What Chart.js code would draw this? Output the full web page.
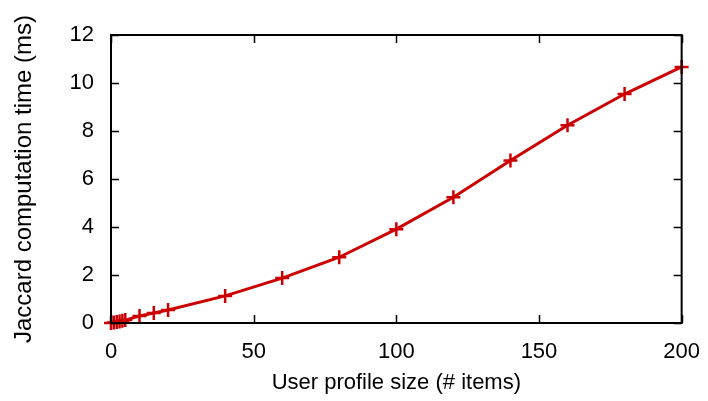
<!DOCTYPE html>
<html>
<head>
<meta charset="utf-8">
<script src="https://cdn.jsdelivr.net/npm/chart.js@4.4.1/dist/chart.umd.min.js"></script>
<style>
  html, body { margin: 0; padding: 0; background: #fff; }
  #wrap { width: 708px; height: 401px; }
</style>
</head>
<body>
<div id="wrap"><canvas id="chart-1" width="708" height="401"></canvas></div>
<script>
// profile size (# items) and Jaccard computation time (ms)
const profileSizes = [0, 1, 2, 3, 4, 5, 10, 15, 20, 40, 60, 80, 100, 120, 140, 160, 180, 200];
const jaccardTimes = [0.0, 0.02, 0.04, 0.06, 0.09, 0.12, 0.29, 0.42, 0.54, 1.13, 1.87, 2.74, 3.91, 5.24, 6.77, 8.24, 9.54, 10.67];
const xTicks = [0, 50, 100, 150, 200];
const yTicks = [0, 2, 4, 6, 8, 10, 12];

const FONT = 'Liberation Sans, Arial, sans-serif';
const red = 'rgb(204, 0, 0)';

// frame + inward ticks on all four sides, like gnuplot
const framePlugin = {
    id: 'frame',
    afterDraw(chart) {
        const ctx = chart.ctx;
        const a = chart.chartArea;
        const xs = chart.scales.x, ys = chart.scales.y;
        ctx.save();
        ctx.strokeStyle = '#000';
        ctx.lineWidth = 1.5;
        ctx.beginPath();
        xTicks.forEach(v => {
            const px = Math.round(xs.getPixelForValue(v)) + 0.5;
            ctx.moveTo(px, a.bottom); ctx.lineTo(px, a.bottom - 8);
            ctx.moveTo(px, a.top); ctx.lineTo(px, a.top + 8);
        });
        yTicks.forEach(v => {
            const py = Math.round(ys.getPixelForValue(v)) + 0.5;
            ctx.moveTo(a.left, py); ctx.lineTo(a.left + 8, py);
            ctx.moveTo(a.right, py); ctx.lineTo(a.right - 8, py);
        });
        ctx.stroke();
        ctx.lineWidth = 2;
        ctx.strokeRect(a.left, a.top, a.right - a.left, a.bottom - a.top);
        ctx.restore();
    }
};

const data = {
    datasets: [{
        label: 'Jaccard',
        data: profileSizes.map((s, i) => ({ x: s, y: jaccardTimes[i] })),
        borderColor: red,
        backgroundColor: red,
        borderWidth: 3,
        pointStyle: 'cross',
        pointRadius: 7,
        pointBorderWidth: 2.5,
        pointHoverRadius: 7,
        tension: 0,
        clip: false
    }]
};

const config = {
    type: 'line',
    data: data,
    options: {
        responsive: false,
        animation: false,
        layout: { padding: { left: 0, right: 20, top: 35, bottom: 0 } },
        plugins: {
            legend: { display: false },
            tooltip: { enabled: false }
        },
        scales: {
            x: {
                type: 'linear',
                min: 0,
                max: 200,
                afterBuildTicks: (s) => { s.ticks = xTicks.map(v => ({ value: v })); },
                afterFit: (s) => { s.height = 78; },
                grid: { display: false },
                border: { display: false },
                ticks: { color: '#000', font: { family: FONT, size: 22 }, padding: 8, maxRotation: 0 },
                title: {
                    display: true,
                    text: 'User profile size (# items)',
                    color: '#000',
                    font: { family: FONT, size: 22 },
                    padding: { top: 4, bottom: 5 }
                }
            },
            y: {
                min: 0,
                max: 12,
                afterBuildTicks: (s) => { s.ticks = yTicks.map(v => ({ value: v })); },
                afterFit: (s) => { s.width = 111; },
                grid: { display: false },
                border: { display: false },
                ticks: { color: '#000', font: { family: FONT, size: 22 }, padding: 9 },
                title: {
                    display: true,
                    text: 'Jaccard computation time (ms)',
                    color: '#000',
                    font: { family: FONT, size: 24 },
                    padding: { top: 10, bottom: 4 }
                }
            }
        }
    },
    plugins: [framePlugin]
};

const ctx = document.getElementById('chart-1').getContext('2d');
new Chart(ctx, config);
</script>
</body>
</html>
